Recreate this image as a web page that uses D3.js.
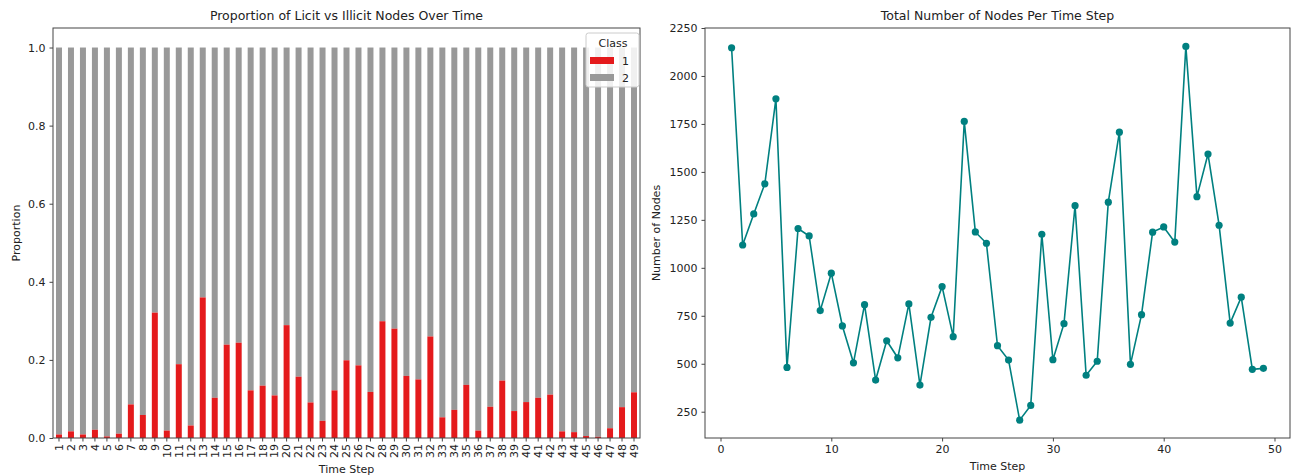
<!DOCTYPE html>
<html>
<head>
<meta charset="utf-8">
<script src="https://cdn.jsdelivr.net/npm/d3@7"></script>
<style>
  body { margin: 0; background: #fff; }
  text { font-family: "DejaVu Sans", sans-serif; fill: #222; }
</style>
</head>
<body>
<div id="main"></div>
<script>
// time steps 1..49
var steps = d3.range(1, 50)
// share of class 1 (illicit) in each step
var illicit_share = [0.009, 0.017, 0.009, 0.021, 0.004, 0.011, 0.086, 0.059, 0.321, 0.019,
  0.189, 0.032, 0.360, 0.103, 0.239, 0.244, 0.122, 0.134, 0.109, 0.289,
  0.157, 0.091, 0.044, 0.122, 0.199, 0.186, 0.118, 0.299, 0.280, 0.159,
  0.150, 0.260, 0.053, 0.072, 0.136, 0.019, 0.080, 0.147, 0.069, 0.092,
  0.103, 0.111, 0.017, 0.015, 0.005, 0.003, 0.025, 0.079, 0.117]
// total nodes per step
var node_counts = [2147, 1119, 1281, 1438, 1881, 481, 1205, 1166, 777, 972,
  697, 505, 808, 415, 620, 531, 812, 389, 742, 902,
  641, 1763, 1187, 1128, 594, 519, 206, 283, 1175, 521,
  709, 1324, 440, 513, 1342, 1707, 497, 756, 1186, 1213,
  1134, 2154, 1371, 1593, 1222, 712, 847, 471, 476]
var class_names = ['1', '2']
var class_colors = ['#e41a1c', '#999999']
var prop_ticks = [0, 0.2, 0.4, 0.6, 0.8, 1.0]
var count_ticks = [250, 500, 750, 1000, 1250, 1500, 1750, 2000, 2250]
var step_ticks = [0, 10, 20, 30, 40, 50]

var W = 1291
var H = 476
var svg = d3.select('div#main').append('svg')
  .attr('width', W)
  .attr('height', H)
  .attr('viewBox', [0, 0, W, H].join(' '))

var axis_color = '#444'

function style_axis (g) {
  g.selectAll('path').attr('stroke', axis_color)
  g.selectAll('line').attr('stroke', axis_color)
  g.selectAll('text').style('font-size', '11px').attr('fill', '#222')
}

// ---------- left: stacked proportions ----------
var L = { x0: 53, x1: 640, y0: 28, y1: 438 }

var sx = d3.scaleBand()
  .domain(steps)
  .range([L.x0, L.x1])
  .paddingInner(0.5)
  .paddingOuter(0.25)

var sy = d3.scaleLinear().domain([0, 1.05]).range([L.y1, L.y0])

var left = svg.append('g')

steps.forEach(function (s, i) {
  var p = illicit_share[i]
  left.append('rect')
    .attr('x', sx(s))
    .attr('y', sy(1))
    .attr('width', sx.bandwidth())
    .attr('height', sy(p) - sy(1))
    .attr('fill', class_colors[1])
  left.append('rect')
    .attr('x', sx(s))
    .attr('y', sy(p))
    .attr('width', sx.bandwidth())
    .attr('height', sy(0) - sy(p))
    .attr('fill', class_colors[0])
})

left.append('rect')
  .attr('x', L.x0).attr('y', L.y0)
  .attr('width', L.x1 - L.x0).attr('height', L.y1 - L.y0)
  .attr('fill', 'none').attr('stroke', axis_color)

var lx_axis = left.append('g')
  .attr('transform', 'translate(0,' + L.y1 + ')')
  .call(d3.axisBottom(sx).tickSizeOuter(0).tickSize(3.5))
lx_axis.call(style_axis)
lx_axis.select('.domain').remove()
lx_axis.selectAll('text')
  .attr('transform', 'rotate(-90)')
  .attr('text-anchor', 'end')
  .attr('x', -6)
  .attr('y', 0)
  .attr('dy', '0.35em')

var ly_axis = left.append('g')
  .attr('transform', 'translate(' + L.x0 + ',0)')
  .call(d3.axisLeft(sy).tickValues(prop_ticks).tickFormat(d3.format('.1f')).tickSize(3.5).tickPadding(4))
ly_axis.call(style_axis)
ly_axis.select('.domain').remove()

left.append('text')
  .attr('x', (L.x0 + L.x1) / 2).attr('y', 20)
  .attr('text-anchor', 'middle')
  .style('font-size', '12.5px')
  .text('Proportion of Licit vs Illicit Nodes Over Time')

left.append('text')
  .attr('x', (L.x0 + L.x1) / 2).attr('y', 473)
  .attr('text-anchor', 'middle')
  .style('font-size', '11px')
  .text('Time Step')

left.append('text')
  .attr('transform', 'translate(20,' + (L.y0 + L.y1) / 2 + ') rotate(-90)')
  .attr('text-anchor', 'middle')
  .style('font-size', '11px')
  .text('Proportion')

// legend
var lg = left.append('g').attr('transform', 'translate(586,33)')
lg.append('rect')
  .attr('width', 53).attr('height', 54).attr('rx', 2.5)
  .attr('fill', 'white').attr('fill-opacity', 0.85)
  .attr('stroke', '#ccc')
lg.append('text')
  .attr('x', 27).attr('y', 14)
  .attr('text-anchor', 'middle')
  .style('font-size', '11px')
  .text('Class')
class_names.forEach(function (c, i) {
  lg.append('rect')
    .attr('x', 4).attr('y', 24 + i * 17)
    .attr('width', 24).attr('height', 7)
    .attr('fill', class_colors[i])
  lg.append('text')
    .attr('x', 36).attr('y', 28 + i * 17)
    .attr('dy', '0.35em')
    .style('font-size', '11px')
    .text(c)
})

// ---------- right: node count line ----------
var R = { x0: 705, x1: 1290, y0: 28, y1: 438 }

var rx = d3.scaleLinear().domain([-1.4, 51.4]).range([R.x0, R.x1])
var ry = d3.scaleLinear().domain([113, 2250]).range([R.y1, R.y0])

var right = svg.append('g')

right.append('rect')
  .attr('x', R.x0).attr('y', R.y0)
  .attr('width', R.x1 - R.x0).attr('height', R.y1 - R.y0)
  .attr('fill', 'none').attr('stroke', axis_color)

var line = d3.line()
  .x(function (d, i) { return rx(steps[i]) })
  .y(function (d) { return ry(d) })

right.append('path')
  .datum(node_counts)
  .attr('d', line)
  .attr('fill', 'none')
  .attr('stroke', 'teal')
  .attr('stroke-width', 1.6)

right.selectAll('circle.pt')
  .data(node_counts)
  .enter().append('circle')
  .attr('class', 'pt')
  .attr('cx', function (d, i) { return rx(steps[i]) })
  .attr('cy', function (d) { return ry(d) })
  .attr('r', 3.6)
  .attr('fill', 'teal')

var rx_axis = right.append('g')
  .attr('transform', 'translate(0,' + R.y1 + ')')
  .call(d3.axisBottom(rx).tickValues(step_ticks).tickFormat(d3.format('d')).tickSize(3.5).tickPadding(4))
rx_axis.call(style_axis)
rx_axis.select('.domain').remove()

var ry_axis = right.append('g')
  .attr('transform', 'translate(' + R.x0 + ',0)')
  .call(d3.axisLeft(ry).tickValues(count_ticks).tickFormat(d3.format('d')).tickSize(3.5).tickPadding(4))
ry_axis.call(style_axis)
ry_axis.select('.domain').remove()

right.append('text')
  .attr('x', (R.x0 + R.x1) / 2).attr('y', 20)
  .attr('text-anchor', 'middle')
  .style('font-size', '12.5px')
  .text('Total Number of Nodes Per Time Step')

right.append('text')
  .attr('x', (R.x0 + R.x1) / 2).attr('y', 470)
  .attr('text-anchor', 'middle')
  .style('font-size', '11px')
  .text('Time Step')

right.append('text')
  .attr('transform', 'translate(660,' + (R.y0 + R.y1) / 2 + ') rotate(-90)')
  .attr('text-anchor', 'middle')
  .style('font-size', '11px')
  .text('Number of Nodes')
</script>
</body>
</html>
